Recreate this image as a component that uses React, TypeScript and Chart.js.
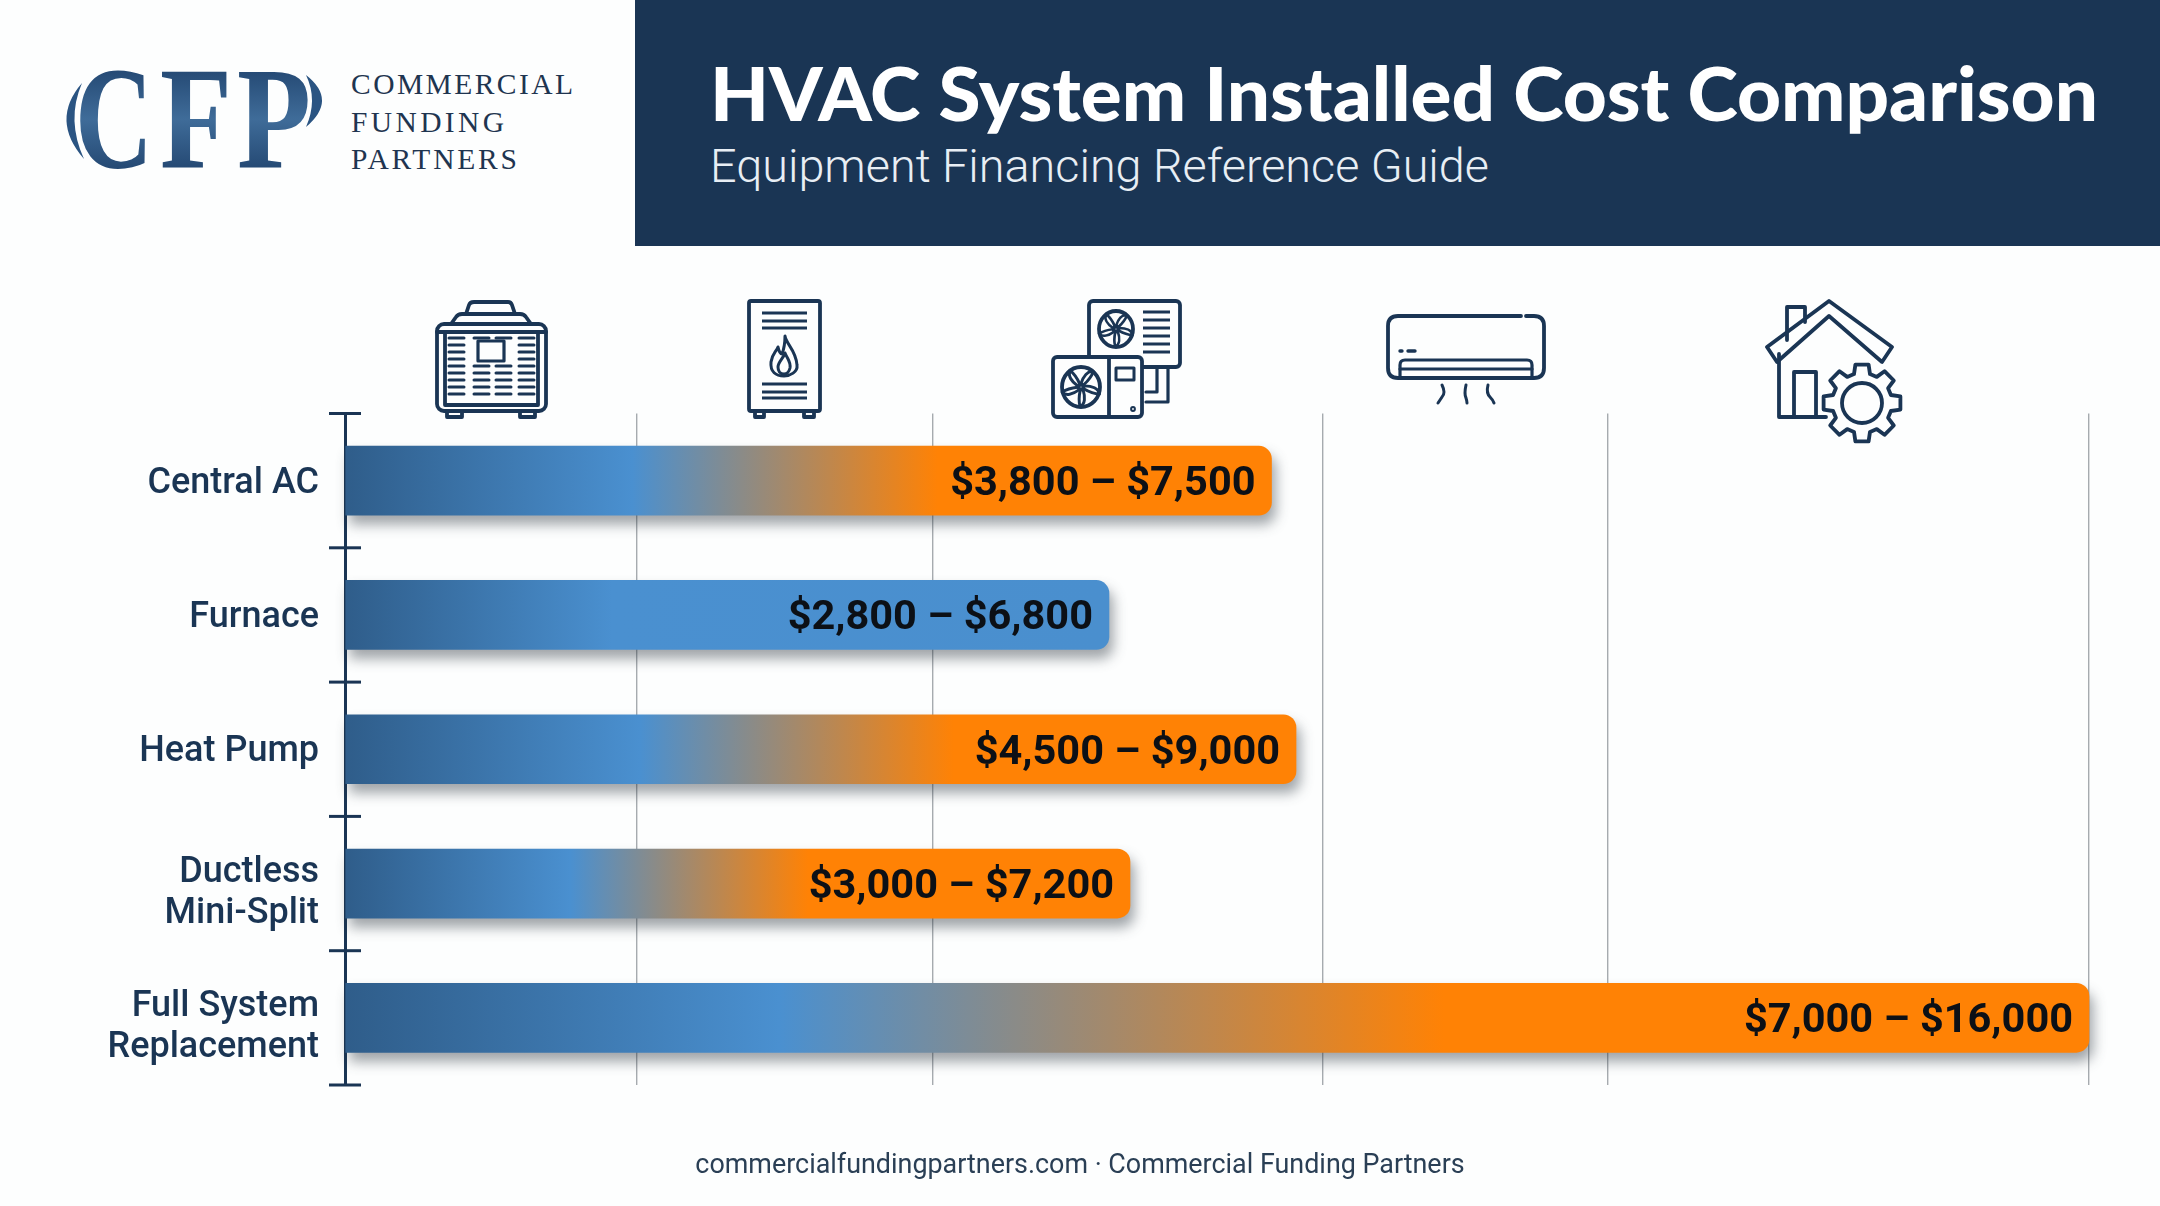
import React, { useEffect, useRef } from "react";
import { Chart, registerables } from "chart.js";

Chart.register(...registerables);

const categories = [["Central AC"], ["Furnace"], ["Heat Pump"], ["Ductless", "Mini-Split"], ["Full System", "Replacement"]];
const rangeLow = [3800, 2800, 4500, 3000, 7000];
const rangeHigh = [7500, 6800, 9000, 7200, 16000];
// Bar lengths as drawn in the picture (its bars do not follow the printed ranges exactly)
const drawnLength = [8500, 7009, 8725, 7202, 16000];
const gridValues = [0, 2674, 5390, 8968, 11587, 16000];
const axisMax = 16000;

const blueStop = [0.31, 0.35, 0.31, 0.287, 0.249];
const orangeStop = [0.64, 0, 0.64, 0.59, 0.63];

const NAVY = "#1a3554";
const PAGE = "#fdfefe";
const fmt = (v: number) => "$" + v.toLocaleString("en-US");
const rangeLabels = rangeLow.map((l, i) => `${fmt(l)} – ${fmt(rangeHigh[i])}`);

const barEffects = {
  id: "barEffects",
  beforeDatasetDraw(chart: any) {
    const c = chart.ctx;
    c.save();
    c.shadowColor = "rgba(30,40,50,0.42)";
    c.shadowBlur = 13;
    c.shadowOffsetX = 4;
    c.shadowOffsetY = 9;
  },
  afterDatasetDraw(chart: any) {
    const c = chart.ctx;
    c.restore();
    c.save();
    c.font = "700 41.5px Roboto";
    c.fillStyle = "#0c1016";
    c.textAlign = "right";
    c.textBaseline = "middle";
    chart.getDatasetMeta(0).data.forEach((el: any, i: number) => {
      c.fillText(rangeLabels[i], el.x - 16, el.y + 4);
    });
    c.restore();
  },
  afterDatasetsDraw(chart: any) {
    const c = chart.ctx;
    const y = chart.scales.y;
    const left = chart.chartArea.left;
    const band = y.getPixelForValue(1) - y.getPixelForValue(0);
    c.save();
    c.strokeStyle = NAVY;
    c.lineWidth = 3;
    for (let i = 0; i <= categories.length; i++) {
      const py = y.getPixelForValue(0) - band / 2 + band * i;
      c.beginPath();
      c.moveTo(left - 16, py);
      c.lineTo(left + 16, py);
      c.stroke();
    }
    // category labels, from the scale's own labels, set slightly below the band centre as in the picture
    c.font = "500 36px Roboto";
    c.fillStyle = NAVY;
    c.textAlign = "right";
    c.textBaseline = "middle";
    const lineGap = 41;
    (chart.data.labels as string[][]).forEach((lines, i) => {
      const cy = y.getPixelForValue(i) + (lines.length > 1 ? 9.5 : 3);
      lines.forEach((line, k) => {
        c.fillText(line, left - 26, cy + (k - (lines.length - 1) / 2) * lineGap);
      });
    });
    c.restore();
  },
};

function Fan({ cx, cy, rx, ry }: any) {
  const blades = [0, 72, 144, 216, 288];
  return (
    <g>
      <ellipse cx={cx} cy={cy} rx={rx} ry={ry} />
      <circle cx={cx} cy={cy} r={2.5} />
      {blades.map((a) => (
        <path
          key={a}
          strokeWidth={2.6}
          transform={`translate(${cx} ${cy}) rotate(${a}) scale(${rx / 17} ${ry / 17})`}
          d="M0 -3 C 2 -9 6 -14 11 -13 C 9 -8 6 -5 2.5 -2"
        />
      ))}
    </g>
  );
}

function Gear({ cx, cy }: any) {
  const teeth = [0, 1, 2, 3, 4, 5, 6, 7];
  let d = "";
  teeth.forEach((t) => {
    const a = (t * Math.PI) / 4;
    const pt = (r: number, o: number) =>
      `${(cx + r * Math.cos(a + o)).toFixed(1)} ${(cy + r * Math.sin(a + o)).toFixed(1)}`;
    d += `${t === 0 ? "M" : "L"}${pt(30, -0.27)} L${pt(39, -0.17)} L${pt(39, 0.17)} L${pt(30, 0.27)} `;
  });
  return (
    <g>
      <path d={d + "Z"} fill={PAGE} />
      <circle cx={cx} cy={cy} r={20} />
    </g>
  );
}

function Icons() {
  const rows = [338, 345, 352, 359, 366, 373, 380, 387, 394];
  const cols = [449, 474, 496, 519];
  return (
    <svg
      width={2160}
      height={1206}
      style={{ position: "absolute", left: 0, top: 0, pointerEvents: "none" }}
      fill="none"
      stroke={NAVY}
      strokeWidth={3.8}
      strokeLinecap="round"
      strokeLinejoin="round"
    >
      {/* condenser */}
      <path d="M466 314 L469 305 Q470 302 474 302 L508 302 Q511 302 512 305 L515 314" />
      <path d="M451 324 L456 317 Q458 314 462 314 L520 314 Q524 314 526 317 L531 324" />
      <rect x={437} y={324} width={109} height={87} rx={7} />
      <path d="M437 332 L546 332 M445 332 L445 405 M538 332 L538 405 M445 405 L538 405" />
      {rows.map((r) =>
        cols.map((x) =>
          r < 362 && r > 340 && (x === 474 || x === 496) ? null : (
            <path key={`${r}-${x}`} d={`M${x} ${r} L${x + 15} ${r}`} strokeWidth={3} />
          )
        )
      )}
      <rect x={478} y={341} width={26} height={20} strokeWidth={3.2} fill={PAGE} />
      <path d="M447 411 L447 417 L462 417 L462 411 M520 411 L520 417 L535 417 L535 411" />

      {/* furnace */}
      <rect x={749} y={301} width={71} height={110} rx={2} />
      <path
        d="M762 313 L807 313 M762 321 L807 321 M762 328 L807 328 M762 384 L807 384 M762 392 L807 392 M762 398 L807 398"
        strokeLinecap="butt"
        strokeWidth={3.2}
      />
      <path
        d="M785 336 C 786 344 796 350 797 365 C 798 372 790 376 784 376 C 776 376 770 372 771 362 C 772 354 776 352 778 347 C 779 352 781 354 782 354 C 784 349 785 342 785 336Z"
        strokeWidth={3}
      />
      <path
        d="M785 353 C 788 360 791 362 790 368 C 789 372 787 374 784 374 C 780 374 778 371 778 367 C 778 362 783 359 785 353Z"
        strokeWidth={3}
      />
      <path d="M755 411 L755 417 L764 417 L764 411 M804 411 L804 417 L814 417 L814 411" />

      {/* heat pump */}
      <rect x={1089} y={301} width={91} height={66} rx={4} />
      <Fan cx={1116} cy={329} rx={17} ry={18} />
      <path
        d="M1143 312 L1170 312 M1143 320 L1170 320 M1143 328 L1170 328 M1143 336 L1170 336 M1143 344 L1170 344 M1143 352 L1170 352"
        strokeWidth={3.2}
        strokeLinecap="butt"
      />
      <path d="M1157 367 L1157 392 L1146 392 M1168 367 L1168 402 L1146 402" strokeWidth={3.2} />
      <rect x={1053} y={357} width={89} height={60} rx={4} fill={PAGE} />
      <Fan cx={1081} cy={387} rx={19} ry={20} />
      <path d="M1109 357 L1109 417" />
      <rect x={1116} y={368} width={18} height={12} strokeWidth={3} />
      <circle cx={1133} cy={409} r={1} />

      {/* mini split */}
      <path d="M1521 316 L1398 316 Q1388 316 1388 326 L1388 368 Q1388 378 1398 378 L1534 378 Q1544 378 1544 368 L1544 326 Q1544 316 1534 316 L1526 316" />
      <path d="M1400 378 L1400 365 Q1400 360 1405 360 L1527 360 Q1532 360 1532 365 L1532 378" strokeWidth={3.2} />
      <path d="M1400 369 L1532 369" strokeWidth={3.2} />
      <path d="M1400 351 L1402 351 M1408 351 L1415 351" strokeWidth={3.4} />
      <path d="M1442 385 Q1446 393 1442 397 Q1440 400 1438 403" strokeWidth={3} />
      <path d="M1466 385 Q1464 394 1466 398 Q1467 401 1467 403" strokeWidth={3} />
      <path d="M1488 385 Q1486 393 1490 397 Q1493 400 1494 403" strokeWidth={3} />

      {/* house with gear */}
      <path d="M1777 362 L1767 347 L1829 301 L1892 347 L1882 362 L1829 316 Z" />
      <path d="M1787 340 L1787 307 L1805 307 L1805 322" />
      <path d="M1779 354 L1779 417 L1826 417" />
      <path d="M1794 417 L1794 372 L1816 372 L1816 417" />
      <Gear cx={1862} cy={403} />
    </svg>
  );
}

function Header() {
  return (
    <svg width={2160} height={246} style={{ position: "absolute", left: 0, top: 0 }}>
      <defs>
        <linearGradient id="logoGrad" x1="0" y1="0" x2="0" y2="1">
          <stop offset="0" stopColor="#14335c" />
          <stop offset="0.5" stopColor="#3f6c99" />
          <stop offset="1" stopColor="#14335c" />
        </linearGradient>
      </defs>
      <rect x={635} y={0} width={1525} height={246} fill={NAVY} />
      <g fontFamily="'Liberation Serif'" fontWeight={700} fill="url(#logoGrad)" fontSize={146}>
        <text x={75} y={168} textLength={78} lengthAdjust="spacingAndGlyphs">C</text>
        <text x={160} y={168} textLength={72} lengthAdjust="spacingAndGlyphs">F</text>
        <text x={237} y={168} textLength={74} lengthAdjust="spacingAndGlyphs">P</text>
      </g>
      <path d="M82 83 Q 50 120 84 159 Q 66 120 82 83Z" fill="#2a5482" />
      <path d="M306 75 Q 338 100 306 127 Q 318 100 306 75Z" fill="#2a5482" />
      <g fontFamily="'Liberation Serif'" fill="#1f3550" fontSize={29.5}>
        <text x={351} y={94} textLength={222}>COMMERCIAL</text>
        <text x={351} y={132} textLength={153}>FUNDING</text>
        <text x={351} y={169} textLength={166}>PARTNERS</text>
      </g>
      <text x={710} y={121} fontFamily="Lato" fontWeight={900} fontSize={74} fill="#ffffff" textLength={1388} lengthAdjust="spacingAndGlyphs">
        HVAC System Installed Cost Comparison
      </text>
      <text x={710} y={182} fontFamily="Roboto" fontWeight={300} fontSize={47} fill="#e8eef4" textLength={779} lengthAdjust="spacingAndGlyphs">
        Equipment Financing Reference Guide
      </text>
    </svg>
  );
}

export default function App() {
  const ref = useRef<HTMLCanvasElement>(null);
  useEffect(() => {
    document.body.style.margin = "0";
    document.body.style.background = PAGE;
    const chart = new Chart(ref.current as HTMLCanvasElement, {
      type: "bar",
      data: {
        labels: categories as any,
        datasets: [
          {
            data: drawnLength,
            clip: false as any,
            barThickness: 69,
            borderSkipped: false as any,
            borderRadius: { topLeft: 0, bottomLeft: 0, topRight: 13, bottomRight: 13 },
            backgroundColor: (ctx: any) => {
              const i = ctx.dataIndex;
              const area = ctx.chart.chartArea;
              if (!area || i === undefined) return "#4a90d0";
              const x0 = area.left;
              const x1 = ctx.chart.scales.x.getPixelForValue(drawnLength[i]);
              const g = ctx.chart.ctx.createLinearGradient(x0, 0, x1, 0);
              g.addColorStop(0, "#2f5d8a");
              g.addColorStop(blueStop[i], "#4a90d0");
              if (orangeStop[i] > 0) {
                g.addColorStop(orangeStop[i], "#ff8205");
                g.addColorStop(1, "#ff8205");
              } else {
                g.addColorStop(1, "#4a8fce");
              }
              return g;
            },
          },
        ],
      },
      options: {
        indexAxis: "y",
        responsive: false,
        animation: false,
        layout: { padding: { top: 413.5, right: 71, bottom: 121, left: 0 } },
        plugins: { legend: { display: false }, tooltip: { enabled: false }, title: { display: false } },
        scales: {
          x: {
            type: "linear",
            min: 0,
            max: axisMax,
            afterBuildTicks: (s: any) => {
              s.ticks = gridValues.map((value) => ({ value }));
            },
            afterFit: (s: any) => {
              s.height = 0;
            },
            ticks: { display: false },
            border: { display: false },
            grid: { color: "#a6abaf", lineWidth: 1.4, drawTicks: false },
          },
          y: {
            type: "category",
            afterFit: (s: any) => {
              s.width = 345;
            },
            border: { display: true, color: NAVY, width: 3 },
            grid: { display: false, drawTicks: false },
            ticks: { display: false, autoSkip: false },
          },
        },
      },
      plugins: [barEffects as any],
    });
    return () => chart.destroy();
  }, []);
  return (
    <div style={{ position: "absolute", left: 0, top: 0, width: 2160, height: 1206, background: PAGE, overflow: "hidden" }}>
      <Header />
      <canvas ref={ref} width={2160} height={1206} style={{ position: "absolute", left: 0, top: 0, display: "block" }} />
      <Icons />
      <div
        style={{
          position: "absolute",
          left: 0,
          width: 2160,
          top: 1147,
          textAlign: "center",
          fontFamily: "Roboto",
          fontSize: 26.9,
          lineHeight: "34px",
          color: "#2a3f55",
        }}
      >
        commercialfundingpartners.com · Commercial Funding Partners
      </div>
    </div>
  );
}
